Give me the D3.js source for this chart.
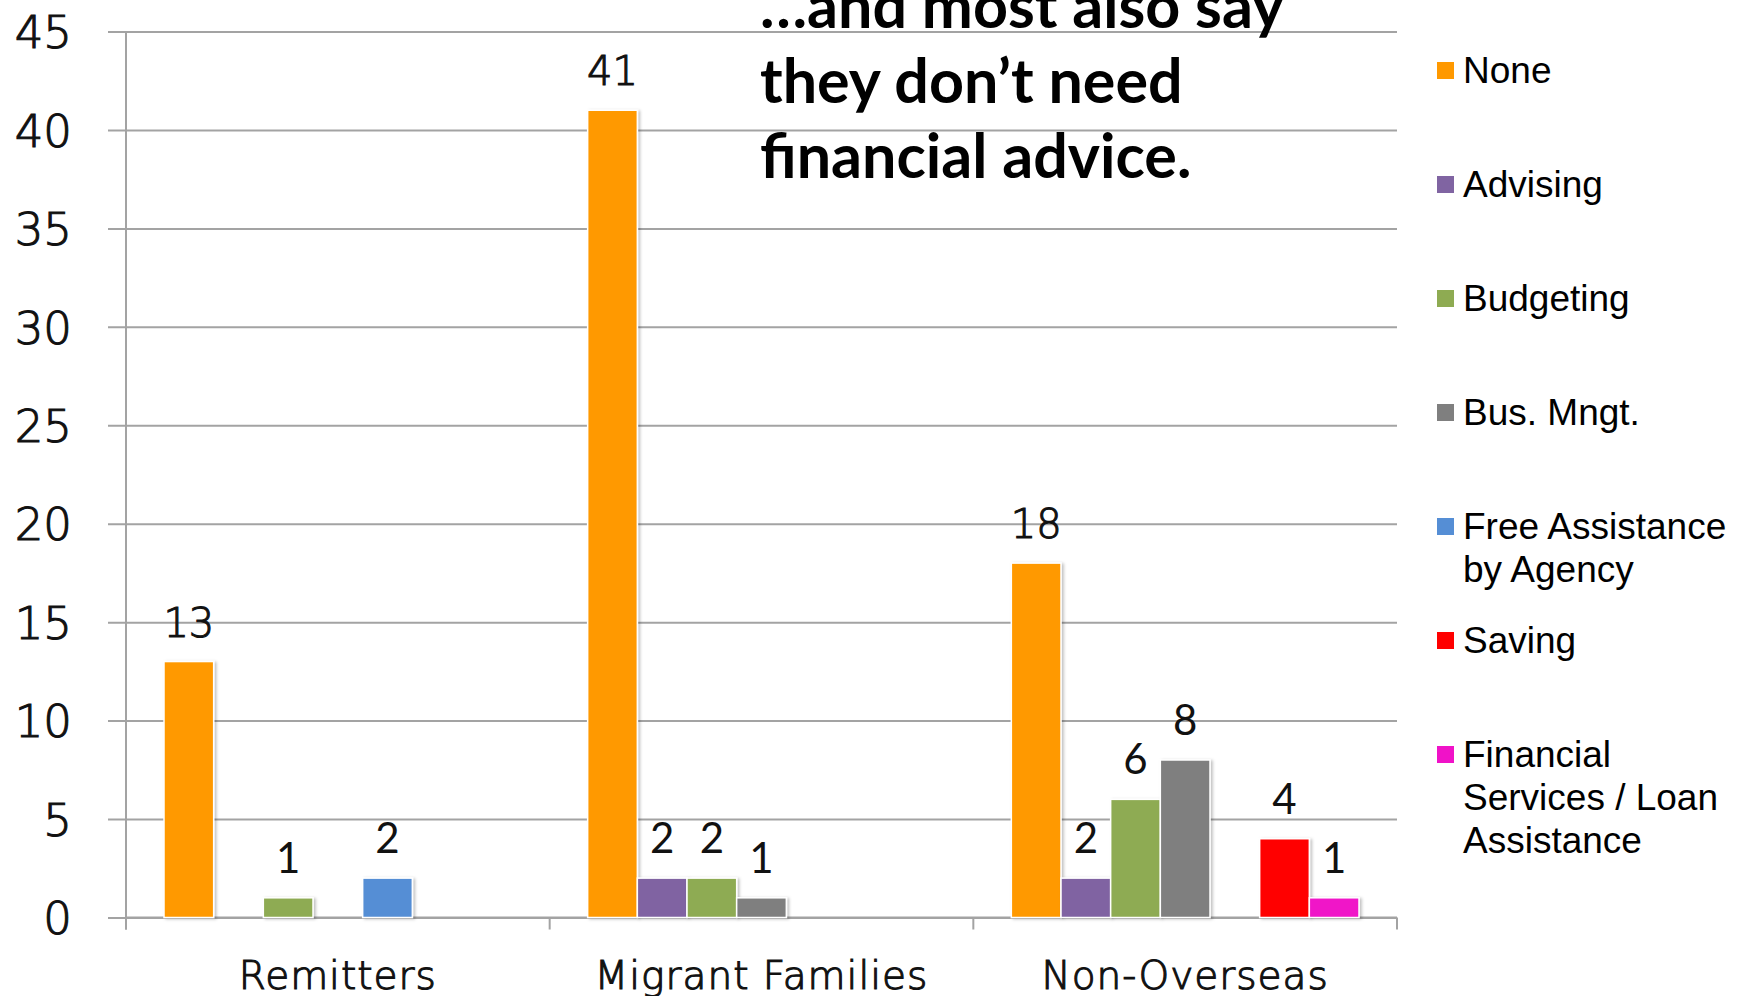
<!DOCTYPE html>
<html>
<head>
<meta charset="utf-8">
<script src="https://cdn.jsdelivr.net/npm/d3@7"></script>
<style>
  html, body { margin: 0; padding: 0; background: #ffffff; }
  svg { display: block; }
</style>
</head>
<body>
<svg id="chart" width="1746" height="996"></svg>
<script>
// Categories along the x axis
const categories = ["Remitters", "Migrant Families", "Non-Overseas"];

// Series (one bar per series inside each category)
const seriesNames = ["None", "Advising", "Budgeting", "Bus. Mngt.", "Free Assistance by Agency", "Saving", "Financial Services / Loan Assistance"];
const legendLines = [["None"], ["Advising"], ["Budgeting"], ["Bus. Mngt."], ["Free Assistance", "by Agency"], ["Saving"], ["Financial", "Services / Loan", "Assistance"]];
const seriesColors = ["#FF9900", "#8064A2", "#8EAB52", "#7F7F7F", "#558ED5", "#FF0000", "#F012C8"];

// Counts per category (Remitters, Migrant Families, Non-Overseas)
const noneValues       = [13, 41, 18];
const advisingValues   = [0, 2, 2];
const budgetingValues  = [1, 2, 6];
const busMngtValues    = [0, 1, 8];
const freeAssistValues = [2, 0, 0];
const savingValues     = [0, 0, 4];
const finLoanValues    = [0, 0, 1];
const seriesValues = [noneValues, advisingValues, budgetingValues, busMngtValues, freeAssistValues, savingValues, finLoanValues];

const yTicks = [0, 5, 10, 15, 20, 25, 30, 35, 40, 45];

const titleLines = ["\u2026and most also say", "they don\u2019t need", "financial advice."];

// ---- layout ----
const svg = d3.select("#chart");
const plotLeft = 126, plotRight = 1397, plotTop = 31.5, plotBottom = 917.5;
const gridColor = "#A3A3A3";

// light sans text, slightly thickened with a matching outline
function lightText(sel) {
  sel.attr("fill", "#111").attr("font-family", "DejaVu Sans").attr("font-weight", 200)
    .attr("stroke", "#111").attr("stroke-width", 1.1).attr("paint-order", "stroke");
}

const x = d3.scaleBand().domain(categories).range([plotLeft, plotRight]).paddingInner(0).paddingOuter(0);
const xInner = d3.scaleBand().domain(d3.range(seriesNames.length))
  .range([38, x.bandwidth() - 38]).padding(0);
const y = d3.scaleLinear().domain([0, 45]).range([plotBottom, plotTop]);

// drop shadow for the bars
const defs = svg.append("defs");
const f = defs.append("filter").attr("id", "shadow").attr("x", "-20%").attr("y", "-20%").attr("width", "140%").attr("height", "140%");
f.append("feDropShadow").attr("dx", 2).attr("dy", 1).attr("stdDeviation", 1.5).attr("flood-color", "#000").attr("flood-opacity", 0.25);

// horizontal grid + y labels
const yAxis = d3.axisLeft(y).tickValues(yTicks).tickSize(-(plotRight - 108)).tickPadding(36).tickFormat(d3.format("d"));
const gy = svg.append("g").attr("transform", "translate(108,0)").call(yAxis);
gy.select(".domain").remove();
gy.selectAll(".tick line").attr("stroke", gridColor).attr("stroke-width", 2);
gy.selectAll(".tick text").call(lightText)
  .attr("font-size", 45)
  .attr("dy", "0.36em");

// vertical y axis line
svg.append("line").attr("x1", plotLeft).attr("x2", plotLeft).attr("y1", y(45)).attr("y2", plotBottom + 12)
  .attr("stroke", gridColor).attr("stroke-width", 2);

// x axis baseline and boundary ticks
svg.append("line").attr("x1", plotLeft).attr("x2", plotRight).attr("y1", plotBottom).attr("y2", plotBottom)
  .attr("stroke", gridColor).attr("stroke-width", 2);
const boundaries = categories.map(c => x(c)).concat([x(categories[categories.length - 1]) + x.bandwidth()]);
svg.append("g").selectAll("line").data(boundaries).join("line")
  .attr("x1", d => d).attr("x2", d => d).attr("y1", plotBottom).attr("y2", plotBottom + 12)
  .attr("stroke", gridColor).attr("stroke-width", 2);

// category labels
const xAxis = d3.axisBottom(x).tickSize(0).tickPadding(0);
const gx = svg.append("g").attr("transform", `translate(0,${plotBottom})`).call(xAxis);
gx.select(".domain").remove();
gx.selectAll(".tick text").call(lightText)
  .attr("font-size", 39)
  .attr("letter-spacing", 1)
  .attr("y", 71).attr("dy", 0);

// bars
const barData = [];
categories.forEach((c, ci) => {
  seriesValues.forEach((vals, si) => {
    if (vals[ci] > 0) barData.push({ cat: c, s: si, v: vals[ci] });
  });
});

svg.append("g").selectAll("rect").data(barData).join("rect")
  .attr("x", d => x(d.cat) + xInner(d.s))
  .attr("y", d => y(d.v))
  .attr("width", xInner.bandwidth())
  .attr("height", d => y(0) - y(d.v))
  .attr("fill", d => seriesColors[d.s])
  .attr("stroke", "#ffffff").attr("stroke-width", 1.5)
  .attr("filter", "url(#shadow)");

// value labels
const labels = svg.append("g").selectAll("text").data(barData).join("text")
  .attr("x", d => x(d.cat) + xInner(d.s) + xInner.bandwidth() / 2)
  .attr("y", d => y(d.v) - 25)
  .attr("text-anchor", "middle")
  .text(d => d.v);
labels.filter(d => d.s === 0).call(lightText).attr("font-size", 40);
labels.filter(d => d.s !== 0).attr("fill", "#111").attr("font-family", "Lato").attr("font-size", 42);

// annotation
svg.append("g").selectAll("text").data(titleLines).join("text")
  .attr("x", 760)
  .attr("y", (d, i) => 28 + i * 75)
  .attr("font-family", "Lato").attr("font-weight", 700).attr("font-size", 61)
  .attr("fill", "#000")
  .text(d => d);

// legend
const legend = svg.append("g");
legendLines.forEach((lines, i) => {
  const cy = 70 + i * 114;
  legend.append("rect").attr("x", 1437).attr("y", cy - 8).attr("width", 17).attr("height", 17)
    .attr("fill", seriesColors[i]);
  lines.forEach((ln, j) => {
    legend.append("text").attr("x", 1463).attr("y", cy + j * 43).attr("dy", "0.36em")
      .attr("font-family", "Liberation Sans").attr("font-size", 37).attr("fill", "#000")
      .text(ln);
  });
});
</script>
</body>
</html>
